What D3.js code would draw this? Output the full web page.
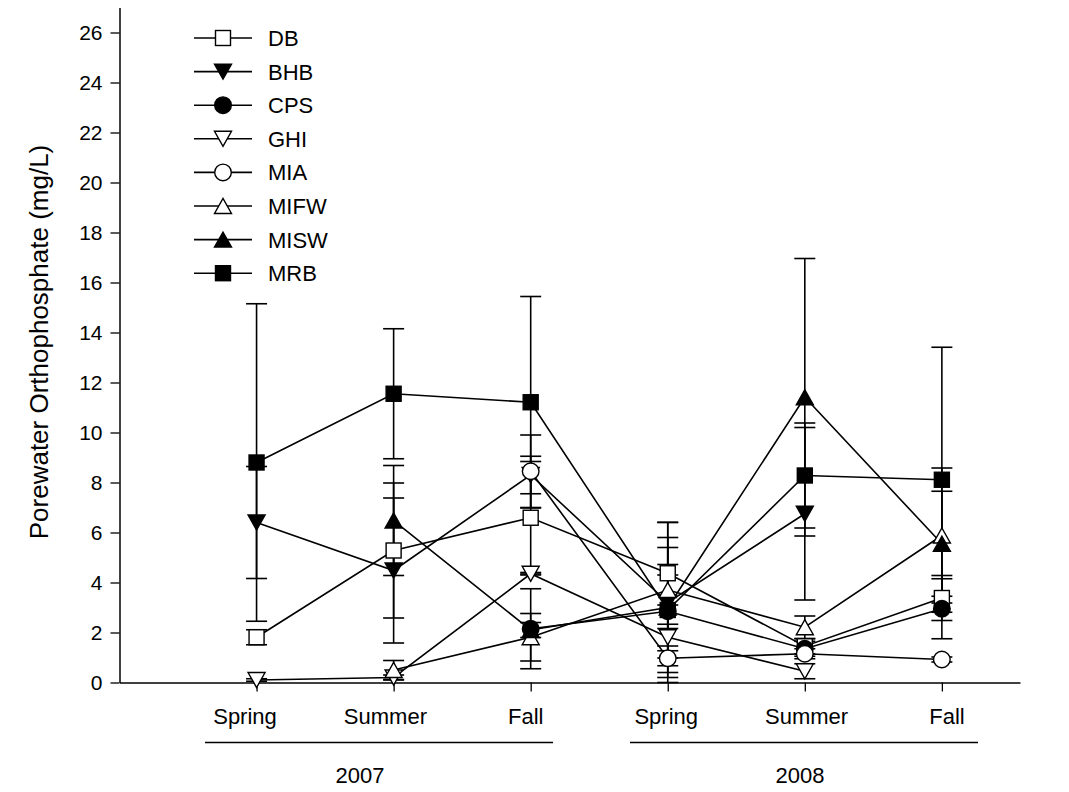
<!DOCTYPE html>
<html>
<head>
<meta charset="utf-8">
<script src="https://cdn.jsdelivr.net/npm/d3@7"></script>
<style>
  body { margin: 0; background: #fff; }
  svg { display: block; font-family: "Liberation Sans", Arial, sans-serif; }
</style>
</head>
<body>
<svg id="chart" width="1069" height="792"></svg>
<script>
// seasons along the x axis
const seasons = ["Spring", "Summer", "Fall", "Spring", "Summer", "Fall"];
const years = ["2007", "2008"];
const yTicks = [0, 2, 4, 6, 8, 10, 12, 14, 16, 18, 20, 22, 24, 26];

const siteNames = ["DB", "BHB", "CPS", "GHI", "MIA", "MIFW", "MISW", "MRB"];

// mean values per season (null = not sampled)
const dbMean   = [1.81, 5.28, 6.59, 4.37, 1.45, 3.38];
const bhbMean  = [6.40, 4.48, 8.30, 3.20, 6.75, null];
const cpsMean  = [null, null, 2.15, 2.85, 1.35, 2.95];
const ghiMean  = [0.10, 0.20, 4.35, 1.81, 0.45, null];
const miaMean  = [null, null, 8.45, 0.97, 1.15, 0.92];
const mifwMean = [null, 0.50, 1.81, 3.70, 2.21, 5.88];
const miswMean = [null, 6.48, 2.10, 3.00, 11.41, 5.55];
const mrbMean  = [8.80, 11.55, 11.21, 2.90, 8.28, 8.11];

// error bar half-lengths
const dbErr   = [0.30, 2.70, 2.25, 2.04, 0.30, 0.90];
const bhbErr  = [2.24, 2.90, 0.75, 3.20, 3.45, null];
const cpsErr  = [null, null, 1.60, 1.87, 0.30, 1.20];
const ghiErr  = [0.05, 0.10, 0.05, 0.35, 0.30, null];
const miaErr  = [null, null, 1.45, 0.30, 0.20, 0.10];
const mifwErr = [null, 0.38, 0.95, 0.60, 0.45, 2.70];
const miswErr = [null, 2.20, 0.30, 2.80, 5.55, 2.10];
const mrbErr  = [6.35, 2.60, 4.23, 2.50, 2.10, 5.30];

const means = [dbMean, bhbMean, cpsMean, ghiMean, miaMean, mifwMean, miswMean, mrbMean];
const errs = [dbErr, bhbErr, cpsErr, ghiErr, miaErr, mifwErr, miswErr, mrbErr];
const symbols = ["squareOpen", "triDownFilled", "circleFilled", "triDownOpen",
                 "circleOpen", "triUpOpen", "triUpFilled", "squareFilled"];

const svg = d3.select("#chart");

const x = d3.scaleLinear().domain([-1, 5.57]).range([119.5, 1020]);
const y = d3.scaleLinear().domain([0, 27]).range([682.5, 7.5]);
// season labels sit on their own, slightly wider grid
const xLabel = d3.scaleLinear().domain([0, 5]).range([245, 947]);

const series = siteNames.map((name, i) => ({
    name: name,
    symbol: symbols[i],
    points: means[i].map((v, j) => ({idx: j, value: v, err: errs[i][j]})).filter(d => d.value !== null)
}));

// axes
svg.append("g")
    .attr("transform", `translate(119.5,0)`)
    .call(d3.axisLeft(y).tickValues(yTicks).tickSize(9).tickPadding(8).tickSizeOuter(0))
    .call(g => g.select(".domain").attr("stroke-width", 1.5))
    .call(g => g.selectAll("line").attr("stroke-width", 1.3))
    .call(g => g.selectAll("text").style("font-size", "21px").attr("fill", "#000")
        .attr("font-family", "'Liberation Sans', Arial, sans-serif"));

svg.append("g")
    .attr("transform", `translate(0,682.5)`)
    .call(d3.axisBottom(x).tickValues([0, 1, 2, 3, 4, 5]).tickSize(9).tickFormat("").tickSizeOuter(0))
    .call(g => g.select(".domain").attr("stroke-width", 1.5))
    .call(g => g.selectAll("line").attr("stroke-width", 1.3));

// season labels, year brackets
svg.append("g").selectAll("text")
    .data(seasons)
    .join("text")
    .attr("x", (d, i) => xLabel(i))
    .attr("y", 724)
    .attr("text-anchor", "middle")
    .style("font-size", "22px")
    .text(d => d);

const bracketX = [[205, 553], [630, 978]];
const yearX = [360, 800];
svg.append("g").selectAll("line")
    .data(bracketX)
    .join("line")
    .attr("x1", d => d[0])
    .attr("x2", d => d[1])
    .attr("y1", 742.5).attr("y2", 742.5)
    .attr("stroke", "#000").attr("stroke-width", 1.3);

svg.append("g").selectAll("text")
    .data(years)
    .join("text")
    .attr("x", (d, i) => yearX[i])
    .attr("y", 783)
    .attr("text-anchor", "middle")
    .style("font-size", "22px")
    .text(d => d);

svg.append("text")
    .attr("transform", "translate(48,342) rotate(-90)")
    .attr("text-anchor", "middle")
    .style("font-size", "26px")
    .text("Porewater Orthophosphate (mg/L)");

// connecting lines
const line = d3.line().x(d => x(d.idx)).y(d => y(d.value));
svg.append("g").selectAll("path")
    .data(series)
    .join("path")
    .attr("d", d => line(d.points))
    .attr("fill", "none")
    .attr("stroke", "#000")
    .attr("stroke-width", 1.6);

// error bars
const bars = svg.append("g").attr("stroke", "#000").attr("stroke-width", 1.6);
series.forEach(s => {
    s.points.forEach(p => {
        const lo = Math.max(0, p.value - p.err), hi = p.value + p.err;
        bars.append("line").attr("x1", x(p.idx)).attr("x2", x(p.idx)).attr("y1", y(lo)).attr("y2", y(hi));
        [lo, hi].forEach(v => {
            bars.append("line").attr("x1", x(p.idx) - 10.5).attr("x2", x(p.idx) + 10.5)
                .attr("y1", y(v)).attr("y2", y(v));
        });
    });
});

function drawSymbol(g, type, cx, cy) {
    const filled = type.endsWith("Filled");
    const fill = filled ? "#000" : "#fff";
    let el;
    if (type.startsWith("square")) {
        el = g.append("rect").attr("x", cx - 7.5).attr("y", cy - 7.5).attr("width", 15).attr("height", 15);
    } else if (type.startsWith("circle")) {
        el = g.append("circle").attr("cx", cx).attr("cy", cy).attr("r", 8.3);
    } else if (type.startsWith("triDown")) {
        el = g.append("path").attr("d", `M${cx - 8.5},${cy - 7.5}L${cx + 8.5},${cy - 7.5}L${cx},${cy + 7.5}Z`);
    } else {
        el = g.append("path").attr("d", `M${cx - 8.5},${cy + 7.5}L${cx + 8.5},${cy + 7.5}L${cx},${cy - 7.5}Z`);
    }
    el.attr("fill", fill).attr("stroke", "#000").attr("stroke-width", 1.4);
}

// symbols
const marks = svg.append("g");
series.forEach(s => {
    s.points.forEach(p => drawSymbol(marks, s.symbol, x(p.idx), y(p.value)));
});

// legend
const legend = svg.append("g");
series.forEach((s, i) => {
    const ly = 38 + i * 33.6;
    legend.append("line").attr("x1", 194).attr("x2", 252).attr("y1", ly).attr("y2", ly)
        .attr("stroke", "#000").attr("stroke-width", 1.6);
    drawSymbol(legend, s.symbol, 223, ly);
    legend.append("text").attr("x", 268).attr("y", ly + 8)
        .style("font-size", "22px").text(s.name);
});
</script>
</body>
</html>
